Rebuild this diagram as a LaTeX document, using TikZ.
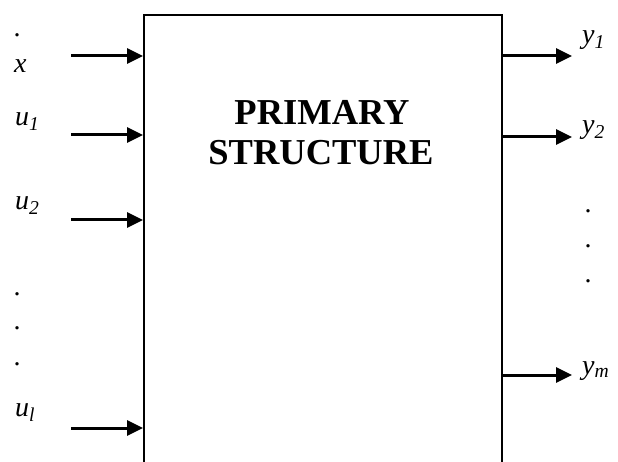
\documentclass[tikz,border=0pt]{standalone}
\usepackage{fontspec}
\setmainfont{Liberation Serif}
\usetikzlibrary{arrows.meta}
\begin{document}
\begin{tikzpicture}[x=1pt,y=-1pt,
  arr/.style={line width=3pt,-{Triangle[length=16pt,width=15pt]}},
  lbl/.style={anchor=base west,inner sep=0pt,font=\fontsize{28}{30}\selectfont\itshape},
  dotl/.style={anchor=base,inner sep=0pt,font=\fontsize{28}{30}\selectfont},
  ttl/.style={anchor=base,inner sep=0pt,font=\fontsize{36.5}{40}\selectfont\bfseries},
  boxs/.style={draw,line width=2pt,rectangle,minimum width=358pt,minimum height=480pt,anchor=north west,inner sep=0pt}]
\clip (0,0) rectangle (618,462);
\node[boxs] (box) at (143,14) {};
\node[ttl] (t1) at (322,125) {PRIMARY};
\node[ttl] (t2) at (321,165) {STRUCTURE};
% inputs
\coordinate (ix) at (71,56);
\coordinate (iu1) at (71,135);
\coordinate (iu2) at (71,220);
\coordinate (iul) at (71,428);
\draw[arr] (ix) -- (ix -| box.west);
\draw[arr] (iu1) -- (iu1 -| box.west);
\draw[arr] (iu2) -- (iu2 -| box.west);
\draw[arr] (iul) -- (iul -| box.west);
% outputs
\coordinate (oy1) at (572,56);
\coordinate (oy2) at (572,137);
\coordinate (oym) at (572,375);
\draw[arr] (oy1 -| box.east) -- (oy1);
\draw[arr] (oy2 -| box.east) -- (oy2);
\draw[arr] (oym -| box.east) -- (oym);
% left labels
\node[dotl] (d0) at (17,37) {.};
\node[lbl] (lx) at (14,73) {x};
\node[lbl] (lu1) at (15,126) {u\textsubscript{1}};
\node[lbl] (lu2) at (15,210) {u\textsubscript{2}};
\node[dotl] (dl1) at (17,295) {.};
\node[dotl] (dl2) at (17,329) {.};
\node[dotl] (dl3) at (17,365) {.};
\node[lbl] (lul) at (15,416) {u\textsubscript{l}};
% right labels
\node[lbl] (ly1) at (582,44) {y\textsubscript{1}};
\node[lbl] (ly2) at (582,134) {y\textsubscript{2}};
\node[dotl] (dr1) at (588,213) {.};
\node[dotl] (dr2) at (588,248) {.};
\node[dotl] (dr3) at (588,283) {.};
\node[lbl] (lym) at (582,374) {y\textsubscript{m}};
\end{tikzpicture}
\end{document}
